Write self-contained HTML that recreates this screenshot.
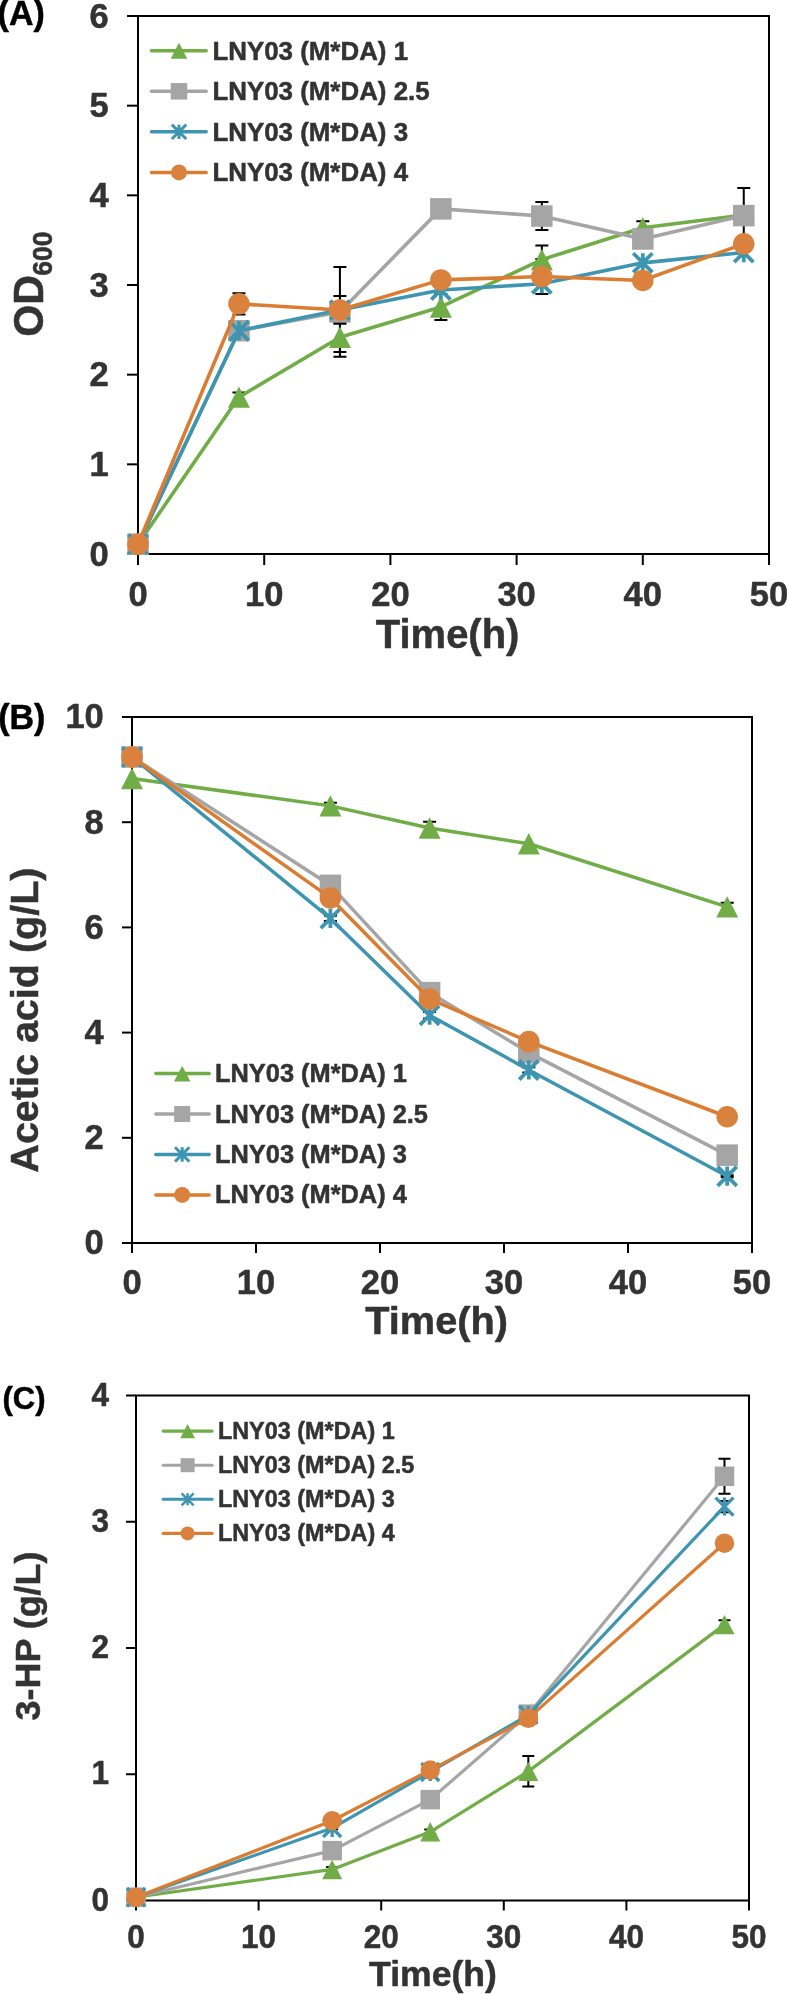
<!DOCTYPE html>
<html><head><meta charset="utf-8"><title>Figure</title>
<style>html,body{margin:0;padding:0;background:#fff;}svg{display:block;will-change:transform;}text{stroke-width:0.5px;stroke-linejoin:round;}</style></head>
<body><svg width="787" height="1994" viewBox="0 0 787 1994" font-family='"Liberation Sans", sans-serif' font-weight="bold" fill="#333333">
<rect x="138" y="16" width="631" height="538" fill="none" stroke="#000" stroke-width="2"/>
<line x1="127" y1="554.00" x2="138" y2="554.00" stroke="#000" stroke-width="2"/>
<text transform="translate(108.80 565.50) scale(1 1.03)" text-anchor="end" stroke="#333333" font-size="34.5">0</text>
<line x1="127" y1="464.33" x2="138" y2="464.33" stroke="#000" stroke-width="2"/>
<text transform="translate(108.80 475.83) scale(1 1.03)" text-anchor="end" stroke="#333333" font-size="34.5">1</text>
<line x1="127" y1="374.67" x2="138" y2="374.67" stroke="#000" stroke-width="2"/>
<text transform="translate(108.80 386.17) scale(1 1.03)" text-anchor="end" stroke="#333333" font-size="34.5">2</text>
<line x1="127" y1="285.00" x2="138" y2="285.00" stroke="#000" stroke-width="2"/>
<text transform="translate(108.80 296.50) scale(1 1.03)" text-anchor="end" stroke="#333333" font-size="34.5">3</text>
<line x1="127" y1="195.33" x2="138" y2="195.33" stroke="#000" stroke-width="2"/>
<text transform="translate(108.80 206.83) scale(1 1.03)" text-anchor="end" stroke="#333333" font-size="34.5">4</text>
<line x1="127" y1="105.67" x2="138" y2="105.67" stroke="#000" stroke-width="2"/>
<text transform="translate(108.80 117.17) scale(1 1.03)" text-anchor="end" stroke="#333333" font-size="34.5">5</text>
<line x1="127" y1="16.00" x2="138" y2="16.00" stroke="#000" stroke-width="2"/>
<text transform="translate(108.80 27.50) scale(1 1.03)" text-anchor="end" stroke="#333333" font-size="34.5">6</text>
<line x1="138.00" y1="554" x2="138.00" y2="565" stroke="#000" stroke-width="2"/>
<text transform="translate(138.00 606.10) scale(1 1.03)" text-anchor="middle" stroke="#333333" font-size="34.5">0</text>
<line x1="264.20" y1="554" x2="264.20" y2="565" stroke="#000" stroke-width="2"/>
<text transform="translate(264.20 606.10) scale(1 1.03)" text-anchor="middle" stroke="#333333" font-size="34.5">10</text>
<line x1="390.40" y1="554" x2="390.40" y2="565" stroke="#000" stroke-width="2"/>
<text transform="translate(390.40 606.10) scale(1 1.03)" text-anchor="middle" stroke="#333333" font-size="34.5">20</text>
<line x1="516.60" y1="554" x2="516.60" y2="565" stroke="#000" stroke-width="2"/>
<text transform="translate(516.60 606.10) scale(1 1.03)" text-anchor="middle" stroke="#333333" font-size="34.5">30</text>
<line x1="642.80" y1="554" x2="642.80" y2="565" stroke="#000" stroke-width="2"/>
<text transform="translate(642.80 606.10) scale(1 1.03)" text-anchor="middle" stroke="#333333" font-size="34.5">40</text>
<line x1="769.00" y1="554" x2="769.00" y2="565" stroke="#000" stroke-width="2"/>
<text transform="translate(769.00 606.10) scale(1 1.03)" text-anchor="middle" stroke="#333333" font-size="34.5">50</text>
<text transform="translate(447.60 648.00) scale(1 1.035)" text-anchor="middle" stroke="#333333" font-size="40">Time(h)</text>
<text transform="translate(42.50 336.70) rotate(-90) scale(1 1.03)" stroke="#333333" font-size="41">OD</text>
<text transform="translate(52.30 275.70) rotate(-90) scale(1 1.07)" stroke="#333333" font-size="26.6">600</text>
<text transform="translate(-2.40 24.80) scale(1 1.03)" fill="#000" stroke="#000" font-size="34">(A)</text>
<path d="M238.96,293.25V314.41M232.46,293.25H245.46M232.46,314.41H245.46" stroke="#000" stroke-width="2" fill="none"/>
<path d="M238.96,392.60V401.57M232.46,392.60H245.46M232.46,401.57H245.46" stroke="#000" stroke-width="2" fill="none"/>
<path d="M339.92,267.07V356.73M333.42,267.07H346.42M333.42,356.73H346.42" stroke="#000" stroke-width="2" fill="none"/>
<path d="M339.92,296.03V323.83M333.42,296.03H346.42M333.42,323.83H346.42" stroke="#000" stroke-width="2" fill="none"/>
<path d="M339.92,322.57V351.98M333.42,322.57H346.42M333.42,351.98H346.42" stroke="#000" stroke-width="2" fill="none"/>
<path d="M440.88,293.97V319.97M434.38,293.97H447.38M434.38,319.97H447.38" stroke="#000" stroke-width="2" fill="none"/>
<path d="M541.84,202.06V230.03M535.34,202.06H548.34M535.34,230.03H548.34" stroke="#000" stroke-width="2" fill="none"/>
<path d="M541.84,245.46V273.79M535.34,245.46H548.34M535.34,273.79H548.34" stroke="#000" stroke-width="2" fill="none"/>
<path d="M541.84,259.09V294.06M535.34,259.09H548.34M535.34,294.06H548.34" stroke="#000" stroke-width="2" fill="none"/>
<path d="M642.80,221.16V234.43M636.30,221.16H649.30M636.30,234.43H649.30" stroke="#000" stroke-width="2" fill="none"/>
<path d="M743.76,188.07V243.13M737.26,188.07H750.26M737.26,243.13H750.26" stroke="#000" stroke-width="2" fill="none"/>
<polyline points="138.00,544.14 238.96,397.08 339.92,337.28 440.88,306.97 541.84,259.62 642.80,227.79 743.76,215.06" fill="none" stroke="#71AD47" stroke-width="3.6" stroke-linejoin="round" stroke-linecap="round"/>
<polygon points="127.00,554.81 149.00,554.81 138.00,533.47" fill="#71AD47"/>
<polygon points="227.96,407.75 249.96,407.75 238.96,386.41" fill="#71AD47"/>
<polygon points="328.92,347.95 350.92,347.95 339.92,326.61" fill="#71AD47"/>
<polygon points="429.88,317.64 451.88,317.64 440.88,296.30" fill="#71AD47"/>
<polygon points="530.84,270.29 552.84,270.29 541.84,248.95" fill="#71AD47"/>
<polygon points="631.80,238.46 653.80,238.46 642.80,217.12" fill="#71AD47"/>
<polygon points="732.76,225.73 754.76,225.73 743.76,204.39" fill="#71AD47"/>
<polyline points="138.00,544.14 238.96,330.73 339.92,311.90 440.88,208.87 541.84,216.05 642.80,239.00 743.76,215.60" fill="none" stroke="#A5A5A5" stroke-width="3.6" stroke-linejoin="round" stroke-linecap="round"/>
<rect x="127.25" y="533.39" width="21.50" height="21.50" fill="#A5A5A5"/>
<rect x="228.21" y="319.98" width="21.50" height="21.50" fill="#A5A5A5"/>
<rect x="329.17" y="301.15" width="21.50" height="21.50" fill="#A5A5A5"/>
<rect x="430.13" y="198.12" width="21.50" height="21.50" fill="#A5A5A5"/>
<rect x="531.09" y="205.30" width="21.50" height="21.50" fill="#A5A5A5"/>
<rect x="632.05" y="228.25" width="21.50" height="21.50" fill="#A5A5A5"/>
<rect x="733.01" y="204.85" width="21.50" height="21.50" fill="#A5A5A5"/>
<polyline points="138.00,544.14 238.96,330.73 339.92,310.11 440.88,290.02 541.84,283.74 642.80,262.85 743.76,252.54" fill="none" stroke="#3E95B1" stroke-width="3.6" stroke-linejoin="round" stroke-linecap="round"/>
<path d="M128.40,534.54L147.60,553.74M147.60,534.54L128.40,553.74M138.00,534.54L138.00,553.74" stroke="#3E95B1" stroke-width="3.8" fill="none"/>
<path d="M229.36,321.13L248.56,340.33M248.56,321.13L229.36,340.33M238.96,321.13L238.96,340.33" stroke="#3E95B1" stroke-width="3.8" fill="none"/>
<path d="M330.32,300.51L349.52,319.71M349.52,300.51L330.32,319.71M339.92,300.51L339.92,319.71" stroke="#3E95B1" stroke-width="3.8" fill="none"/>
<path d="M431.28,280.42L450.48,299.62M450.48,280.42L431.28,299.62M440.88,280.42L440.88,299.62" stroke="#3E95B1" stroke-width="3.8" fill="none"/>
<path d="M532.24,274.14L551.44,293.34M551.44,274.14L532.24,293.34M541.84,274.14L541.84,293.34" stroke="#3E95B1" stroke-width="3.8" fill="none"/>
<path d="M633.20,253.25L652.40,272.45M652.40,253.25L633.20,272.45M642.80,253.25L642.80,272.45" stroke="#3E95B1" stroke-width="3.8" fill="none"/>
<path d="M734.16,242.94L753.36,262.14M753.36,242.94L734.16,262.14M743.76,242.94L743.76,262.14" stroke="#3E95B1" stroke-width="3.8" fill="none"/>
<polyline points="138.00,544.14 238.96,303.83 339.92,309.93 440.88,279.89 541.84,276.57 642.80,280.43 743.76,243.84" fill="none" stroke="#DC7C31" stroke-width="3.6" stroke-linejoin="round" stroke-linecap="round"/>
<circle cx="138.00" cy="544.14" r="10.75" fill="#DA823D"/>
<circle cx="238.96" cy="303.83" r="10.75" fill="#DA823D"/>
<circle cx="339.92" cy="309.93" r="10.75" fill="#DA823D"/>
<circle cx="440.88" cy="279.89" r="10.75" fill="#DA823D"/>
<circle cx="541.84" cy="276.57" r="10.75" fill="#DA823D"/>
<circle cx="642.80" cy="280.43" r="10.75" fill="#DA823D"/>
<circle cx="743.76" cy="243.84" r="10.75" fill="#DA823D"/>
<line x1="151.5" y1="50.80" x2="206.2" y2="50.80" stroke="#71AD47" stroke-width="3.5" stroke-linecap="round"/>
<polygon points="170.75,58.80 187.25,58.80 179.00,42.80" fill="#71AD47"/>
<text transform="translate(212.41 59.80) scale(1 1.03)" stroke="#333333" font-size="25.9">LNY03 (M*DA) 1</text>
<line x1="151.5" y1="91.33" x2="206.2" y2="91.33" stroke="#A5A5A5" stroke-width="3.5" stroke-linecap="round"/>
<rect x="170.75" y="83.08" width="16.50" height="16.50" fill="#A5A5A5"/>
<text transform="translate(212.41 100.33) scale(1 1.03)" stroke="#333333" font-size="25.9">LNY03 (M*DA) 2.5</text>
<line x1="151.5" y1="131.86" x2="206.2" y2="131.86" stroke="#3E95B1" stroke-width="3.5" stroke-linecap="round"/>
<path d="M171.80,124.66L186.20,139.06M186.20,124.66L171.80,139.06M179.00,124.66L179.00,139.06" stroke="#3E95B1" stroke-width="3" fill="none"/>
<text transform="translate(212.41 140.86) scale(1 1.03)" stroke="#333333" font-size="25.9">LNY03 (M*DA) 3</text>
<line x1="151.5" y1="172.39" x2="206.2" y2="172.39" stroke="#DC7C31" stroke-width="3.5" stroke-linecap="round"/>
<circle cx="179.00" cy="172.39" r="8.00" fill="#DA823D"/>
<text transform="translate(212.41 181.39) scale(1 1.03)" stroke="#333333" font-size="25.9">LNY03 (M*DA) 4</text>
<rect x="132" y="717" width="620" height="526" fill="none" stroke="#000" stroke-width="2"/>
<line x1="122" y1="1243.00" x2="132" y2="1243.00" stroke="#000" stroke-width="2"/>
<text transform="translate(103.80 1254.30) scale(1 1.03)" text-anchor="end" stroke="#333333" font-size="34.5">0</text>
<line x1="122" y1="1137.80" x2="132" y2="1137.80" stroke="#000" stroke-width="2"/>
<text transform="translate(103.80 1149.10) scale(1 1.03)" text-anchor="end" stroke="#333333" font-size="34.5">2</text>
<line x1="122" y1="1032.60" x2="132" y2="1032.60" stroke="#000" stroke-width="2"/>
<text transform="translate(103.80 1043.90) scale(1 1.03)" text-anchor="end" stroke="#333333" font-size="34.5">4</text>
<line x1="122" y1="927.40" x2="132" y2="927.40" stroke="#000" stroke-width="2"/>
<text transform="translate(103.80 938.70) scale(1 1.03)" text-anchor="end" stroke="#333333" font-size="34.5">6</text>
<line x1="122" y1="822.20" x2="132" y2="822.20" stroke="#000" stroke-width="2"/>
<text transform="translate(103.80 833.50) scale(1 1.03)" text-anchor="end" stroke="#333333" font-size="34.5">8</text>
<line x1="122" y1="717.00" x2="132" y2="717.00" stroke="#000" stroke-width="2"/>
<text transform="translate(103.80 728.30) scale(1 1.03)" text-anchor="end" stroke="#333333" font-size="34.5">10</text>
<line x1="132.00" y1="1243" x2="132.00" y2="1253" stroke="#000" stroke-width="2"/>
<text transform="translate(132.00 1293.60) scale(1 1.03)" text-anchor="middle" stroke="#333333" font-size="34.5">0</text>
<line x1="256.00" y1="1243" x2="256.00" y2="1253" stroke="#000" stroke-width="2"/>
<text transform="translate(256.00 1293.60) scale(1 1.03)" text-anchor="middle" stroke="#333333" font-size="34.5">10</text>
<line x1="380.00" y1="1243" x2="380.00" y2="1253" stroke="#000" stroke-width="2"/>
<text transform="translate(380.00 1293.60) scale(1 1.03)" text-anchor="middle" stroke="#333333" font-size="34.5">20</text>
<line x1="504.00" y1="1243" x2="504.00" y2="1253" stroke="#000" stroke-width="2"/>
<text transform="translate(504.00 1293.60) scale(1 1.03)" text-anchor="middle" stroke="#333333" font-size="34.5">30</text>
<line x1="628.00" y1="1243" x2="628.00" y2="1253" stroke="#000" stroke-width="2"/>
<text transform="translate(628.00 1293.60) scale(1 1.03)" text-anchor="middle" stroke="#333333" font-size="34.5">40</text>
<line x1="752.00" y1="1243" x2="752.00" y2="1253" stroke="#000" stroke-width="2"/>
<text transform="translate(752.00 1293.60) scale(1 1.03)" text-anchor="middle" stroke="#333333" font-size="34.5">50</text>
<text transform="translate(436.60 1333.90)" text-anchor="middle" stroke="#333333" font-size="39.7">Time(h)</text>
<text transform="translate(37.90 1020.10) rotate(-90)" text-anchor="middle" stroke="#333333" font-size="39.5">Acetic acid (g/L)</text>
<text transform="translate(-1.85 729.10) scale(1 1.03)" fill="#000" stroke="#000" font-size="34">(B)</text>
<path d="M330.40,802.74V809.05M323.90,802.74H336.90M323.90,809.05H336.90" stroke="#000" stroke-width="2" fill="none"/>
<path d="M330.40,915.83V921.09M323.90,915.83H336.90M323.90,921.09H336.90" stroke="#000" stroke-width="2" fill="none"/>
<path d="M429.60,821.67V834.30M423.10,821.67H436.10M423.10,834.30H436.10" stroke="#000" stroke-width="2" fill="none"/>
<path d="M429.60,1012.09V1018.40M423.10,1012.09H436.10M423.10,1018.40H436.10" stroke="#000" stroke-width="2" fill="none"/>
<path d="M528.80,1067.32V1072.58M522.30,1067.32H535.30M522.30,1072.58H535.30" stroke="#000" stroke-width="2" fill="none"/>
<path d="M727.20,902.68V911.09M720.70,902.68H733.70M720.70,911.09H733.70" stroke="#000" stroke-width="2" fill="none"/>
<path d="M727.20,1175.15V1177.25M720.70,1175.15H733.70M720.70,1177.25H733.70" stroke="#000" stroke-width="2" fill="none"/>
<polyline points="132.00,778.54 330.40,805.89 429.60,827.99 528.80,843.77 727.20,906.89" fill="none" stroke="#71AD47" stroke-width="3.5" stroke-linejoin="round" stroke-linecap="round"/>
<polygon points="121.00,789.21 143.00,789.21 132.00,767.87" fill="#71AD47"/>
<polygon points="319.40,816.56 341.40,816.56 330.40,795.22" fill="#71AD47"/>
<polygon points="418.60,838.66 440.60,838.66 429.60,817.32" fill="#71AD47"/>
<polygon points="517.80,854.44 539.80,854.44 528.80,833.10" fill="#71AD47"/>
<polygon points="716.20,917.56 738.20,917.56 727.20,896.22" fill="#71AD47"/>
<polyline points="132.00,756.98 330.40,885.32 429.60,992.62 528.80,1052.59 727.20,1155.16" fill="none" stroke="#A5A5A5" stroke-width="3.5" stroke-linejoin="round" stroke-linecap="round"/>
<rect x="121.25" y="746.23" width="21.50" height="21.50" fill="#A5A5A5"/>
<rect x="319.65" y="874.57" width="21.50" height="21.50" fill="#A5A5A5"/>
<rect x="418.85" y="981.87" width="21.50" height="21.50" fill="#A5A5A5"/>
<rect x="518.05" y="1041.84" width="21.50" height="21.50" fill="#A5A5A5"/>
<rect x="716.45" y="1144.41" width="21.50" height="21.50" fill="#A5A5A5"/>
<polyline points="132.00,756.98 330.40,918.46 429.60,1015.24 528.80,1069.95 727.20,1176.20" fill="none" stroke="#3E95B1" stroke-width="3.5" stroke-linejoin="round" stroke-linecap="round"/>
<path d="M122.40,747.38L141.60,766.58M141.60,747.38L122.40,766.58M132.00,747.38L132.00,766.58" stroke="#3E95B1" stroke-width="3.8" fill="none"/>
<path d="M320.80,908.86L340.00,928.06M340.00,908.86L320.80,928.06M330.40,908.86L330.40,928.06" stroke="#3E95B1" stroke-width="3.8" fill="none"/>
<path d="M420.00,1005.64L439.20,1024.84M439.20,1005.64L420.00,1024.84M429.60,1005.64L429.60,1024.84" stroke="#3E95B1" stroke-width="3.8" fill="none"/>
<path d="M519.20,1060.35L538.40,1079.55M538.40,1060.35L519.20,1079.55M528.80,1060.35L528.80,1079.55" stroke="#3E95B1" stroke-width="3.8" fill="none"/>
<path d="M717.60,1166.60L736.80,1185.80M736.80,1166.60L717.60,1185.80M727.20,1166.60L727.20,1185.80" stroke="#3E95B1" stroke-width="3.8" fill="none"/>
<polyline points="132.00,756.98 330.40,897.94 429.60,998.94 528.80,1041.54 727.20,1116.76" fill="none" stroke="#DC7C31" stroke-width="3.5" stroke-linejoin="round" stroke-linecap="round"/>
<circle cx="132.00" cy="756.98" r="10.75" fill="#DA823D"/>
<circle cx="330.40" cy="897.94" r="10.75" fill="#DA823D"/>
<circle cx="429.60" cy="998.94" r="10.75" fill="#DA823D"/>
<circle cx="528.80" cy="1041.54" r="10.75" fill="#DA823D"/>
<circle cx="727.20" cy="1116.76" r="10.75" fill="#DA823D"/>
<line x1="155.85" y1="1073.60" x2="209.15" y2="1073.60" stroke="#71AD47" stroke-width="3.5" stroke-linecap="round"/>
<polygon points="174.00,1081.55 190.40,1081.55 182.20,1065.65" fill="#71AD47"/>
<text transform="translate(215.00 1082.10) scale(1 1.03)" stroke="#333333" font-size="25.4">LNY03 (M*DA) 1</text>
<line x1="155.85" y1="1114.03" x2="209.15" y2="1114.03" stroke="#A5A5A5" stroke-width="3.5" stroke-linecap="round"/>
<rect x="174.20" y="1106.03" width="16.00" height="16.00" fill="#A5A5A5"/>
<text transform="translate(215.00 1122.53) scale(1 1.03)" stroke="#333333" font-size="25.4">LNY03 (M*DA) 2.5</text>
<line x1="155.85" y1="1154.46" x2="209.15" y2="1154.46" stroke="#3E95B1" stroke-width="3.5" stroke-linecap="round"/>
<path d="M175.00,1147.26L189.40,1161.66M189.40,1147.26L175.00,1161.66M182.20,1147.26L182.20,1161.66" stroke="#3E95B1" stroke-width="3" fill="none"/>
<text transform="translate(215.00 1162.96) scale(1 1.03)" stroke="#333333" font-size="25.4">LNY03 (M*DA) 3</text>
<line x1="155.85" y1="1194.89" x2="209.15" y2="1194.89" stroke="#DC7C31" stroke-width="3.5" stroke-linecap="round"/>
<circle cx="182.20" cy="1194.89" r="8.00" fill="#DA823D"/>
<text transform="translate(215.00 1203.39) scale(1 1.03)" stroke="#333333" font-size="25.4">LNY03 (M*DA) 4</text>
<rect x="136" y="1395.5" width="613" height="505.0" fill="none" stroke="#000" stroke-width="2"/>
<line x1="126" y1="1900.50" x2="136" y2="1900.50" stroke="#000" stroke-width="2"/>
<text transform="translate(109.10 1910.60) scale(1 1.03)" text-anchor="end" stroke="#333333" font-size="31.5">0</text>
<line x1="126" y1="1774.25" x2="136" y2="1774.25" stroke="#000" stroke-width="2"/>
<text transform="translate(109.10 1784.35) scale(1 1.03)" text-anchor="end" stroke="#333333" font-size="31.5">1</text>
<line x1="126" y1="1648.00" x2="136" y2="1648.00" stroke="#000" stroke-width="2"/>
<text transform="translate(109.10 1658.10) scale(1 1.03)" text-anchor="end" stroke="#333333" font-size="31.5">2</text>
<line x1="126" y1="1521.75" x2="136" y2="1521.75" stroke="#000" stroke-width="2"/>
<text transform="translate(109.10 1531.85) scale(1 1.03)" text-anchor="end" stroke="#333333" font-size="31.5">3</text>
<line x1="126" y1="1395.50" x2="136" y2="1395.50" stroke="#000" stroke-width="2"/>
<text transform="translate(109.10 1405.60) scale(1 1.03)" text-anchor="end" stroke="#333333" font-size="31.5">4</text>
<line x1="136.00" y1="1900.5" x2="136.00" y2="1910.5" stroke="#000" stroke-width="2"/>
<text transform="translate(136.00 1947.60) scale(1 1.03)" text-anchor="middle" stroke="#333333" font-size="31.5">0</text>
<line x1="258.60" y1="1900.5" x2="258.60" y2="1910.5" stroke="#000" stroke-width="2"/>
<text transform="translate(258.60 1947.60) scale(1 1.03)" text-anchor="middle" stroke="#333333" font-size="31.5">10</text>
<line x1="381.20" y1="1900.5" x2="381.20" y2="1910.5" stroke="#000" stroke-width="2"/>
<text transform="translate(381.20 1947.60) scale(1 1.03)" text-anchor="middle" stroke="#333333" font-size="31.5">20</text>
<line x1="503.80" y1="1900.5" x2="503.80" y2="1910.5" stroke="#000" stroke-width="2"/>
<text transform="translate(503.80 1947.60) scale(1 1.03)" text-anchor="middle" stroke="#333333" font-size="31.5">30</text>
<line x1="626.40" y1="1900.5" x2="626.40" y2="1910.5" stroke="#000" stroke-width="2"/>
<text transform="translate(626.40 1947.60) scale(1 1.03)" text-anchor="middle" stroke="#333333" font-size="31.5">40</text>
<line x1="749.00" y1="1900.5" x2="749.00" y2="1910.5" stroke="#000" stroke-width="2"/>
<text transform="translate(749.00 1947.60) scale(1 1.03)" text-anchor="middle" stroke="#333333" font-size="31.5">50</text>
<text transform="translate(433.00 1985.60)" text-anchor="middle" stroke="#333333" font-size="35.6">Time(h)</text>
<text transform="translate(40.00 1636.00) rotate(-90)" text-anchor="middle" stroke="#333333" font-size="35.9">3-HP (g/L)</text>
<text transform="translate(2.55 1409.30) scale(1 1.03)" fill="#000" stroke="#000" font-size="31">(C)</text>
<path d="M332.16,1866.92V1871.97M326.16,1866.92H338.16M326.16,1871.97H338.16" stroke="#000" stroke-width="2" fill="none"/>
<path d="M332.16,1826.77V1829.30M326.16,1826.77H338.16M326.16,1829.30H338.16" stroke="#000" stroke-width="2" fill="none"/>
<path d="M430.24,1829.55V1834.09M424.24,1829.55H436.24M424.24,1834.09H436.24" stroke="#000" stroke-width="2" fill="none"/>
<path d="M528.32,1756.07V1786.62M522.32,1756.07H534.32M522.32,1786.62H534.32" stroke="#000" stroke-width="2" fill="none"/>
<path d="M724.48,1458.75V1493.85M718.48,1458.75H730.48M718.48,1493.85H730.48" stroke="#000" stroke-width="2" fill="none"/>
<path d="M724.48,1500.92V1512.28M718.48,1500.92H730.48M718.48,1512.28H730.48" stroke="#000" stroke-width="2" fill="none"/>
<path d="M724.48,1620.22V1629.06M718.48,1620.22H730.48M718.48,1629.06H730.48" stroke="#000" stroke-width="2" fill="none"/>
<polyline points="136.00,1897.22 332.16,1869.44 430.24,1831.82 528.32,1771.35 724.48,1624.64" fill="none" stroke="#71AD47" stroke-width="3.2" stroke-linejoin="round" stroke-linecap="round"/>
<polygon points="126.00,1906.92 146.00,1906.92 136.00,1887.52" fill="#71AD47"/>
<polygon points="322.16,1879.14 342.16,1879.14 332.16,1859.74" fill="#71AD47"/>
<polygon points="420.24,1841.52 440.24,1841.52 430.24,1822.12" fill="#71AD47"/>
<polygon points="518.32,1781.05 538.32,1781.05 528.32,1761.65" fill="#71AD47"/>
<polygon points="714.48,1634.34 734.48,1634.34 724.48,1614.94" fill="#71AD47"/>
<polyline points="136.00,1897.22 332.16,1850.63 430.24,1799.63 528.32,1714.15 724.48,1476.30" fill="none" stroke="#A5A5A5" stroke-width="3.2" stroke-linejoin="round" stroke-linecap="round"/>
<rect x="126.25" y="1887.47" width="19.50" height="19.50" fill="#A5A5A5"/>
<rect x="322.41" y="1840.88" width="19.50" height="19.50" fill="#A5A5A5"/>
<rect x="420.49" y="1789.88" width="19.50" height="19.50" fill="#A5A5A5"/>
<rect x="518.57" y="1704.40" width="19.50" height="19.50" fill="#A5A5A5"/>
<rect x="714.73" y="1466.55" width="19.50" height="19.50" fill="#A5A5A5"/>
<polyline points="136.00,1897.22 332.16,1828.03 430.24,1771.98 528.32,1714.91 724.48,1506.60" fill="none" stroke="#3E95B1" stroke-width="3.2" stroke-linejoin="round" stroke-linecap="round"/>
<path d="M127.00,1888.22L145.00,1906.22M145.00,1888.22L127.00,1906.22M136.00,1888.22L136.00,1906.22" stroke="#3E95B1" stroke-width="3.3" fill="none"/>
<path d="M323.16,1819.03L341.16,1837.03M341.16,1819.03L323.16,1837.03M332.16,1819.03L332.16,1837.03" stroke="#3E95B1" stroke-width="3.3" fill="none"/>
<path d="M421.24,1762.98L439.24,1780.98M439.24,1762.98L421.24,1780.98M430.24,1762.98L430.24,1780.98" stroke="#3E95B1" stroke-width="3.3" fill="none"/>
<path d="M519.32,1705.91L537.32,1723.91M537.32,1705.91L519.32,1723.91M528.32,1705.91L528.32,1723.91" stroke="#3E95B1" stroke-width="3.3" fill="none"/>
<path d="M715.48,1497.60L733.48,1515.60M733.48,1497.60L715.48,1515.60M724.48,1497.60L724.48,1515.60" stroke="#3E95B1" stroke-width="3.3" fill="none"/>
<polyline points="136.00,1897.22 332.16,1820.71 430.24,1770.08 528.32,1718.32 724.48,1543.21" fill="none" stroke="#DC7C31" stroke-width="3.2" stroke-linejoin="round" stroke-linecap="round"/>
<circle cx="136.00" cy="1897.22" r="9.75" fill="#DA823D"/>
<circle cx="332.16" cy="1820.71" r="9.75" fill="#DA823D"/>
<circle cx="430.24" cy="1770.08" r="9.75" fill="#DA823D"/>
<circle cx="528.32" cy="1718.32" r="9.75" fill="#DA823D"/>
<circle cx="724.48" cy="1543.21" r="9.75" fill="#DA823D"/>
<line x1="163.15" y1="1431.10" x2="212.15" y2="1431.10" stroke="#71AD47" stroke-width="3.1" stroke-linecap="round"/>
<polygon points="180.20,1438.28 195.00,1438.28 187.60,1423.92" fill="#71AD47"/>
<text transform="translate(217.93 1438.90) scale(1 1.03)" stroke="#333333" font-size="23.4">LNY03 (M*DA) 1</text>
<line x1="163.15" y1="1465.20" x2="212.15" y2="1465.20" stroke="#A5A5A5" stroke-width="3.1" stroke-linecap="round"/>
<rect x="180.60" y="1458.20" width="14.00" height="14.00" fill="#A5A5A5"/>
<text transform="translate(217.93 1473.00) scale(1 1.03)" stroke="#333333" font-size="23.4">LNY03 (M*DA) 2.5</text>
<line x1="163.15" y1="1499.30" x2="212.15" y2="1499.30" stroke="#3E95B1" stroke-width="3.1" stroke-linecap="round"/>
<path d="M181.60,1493.30L193.60,1505.30M193.60,1493.30L181.60,1505.30M187.60,1493.30L187.60,1505.30" stroke="#3E95B1" stroke-width="2.5" fill="none"/>
<text transform="translate(217.93 1507.10) scale(1 1.03)" stroke="#333333" font-size="23.4">LNY03 (M*DA) 3</text>
<line x1="163.15" y1="1533.40" x2="212.15" y2="1533.40" stroke="#DC7C31" stroke-width="3.1" stroke-linecap="round"/>
<circle cx="187.60" cy="1533.40" r="7.00" fill="#DA823D"/>
<text transform="translate(217.93 1541.20) scale(1 1.03)" stroke="#333333" font-size="23.4">LNY03 (M*DA) 4</text>
</svg></body></html>
